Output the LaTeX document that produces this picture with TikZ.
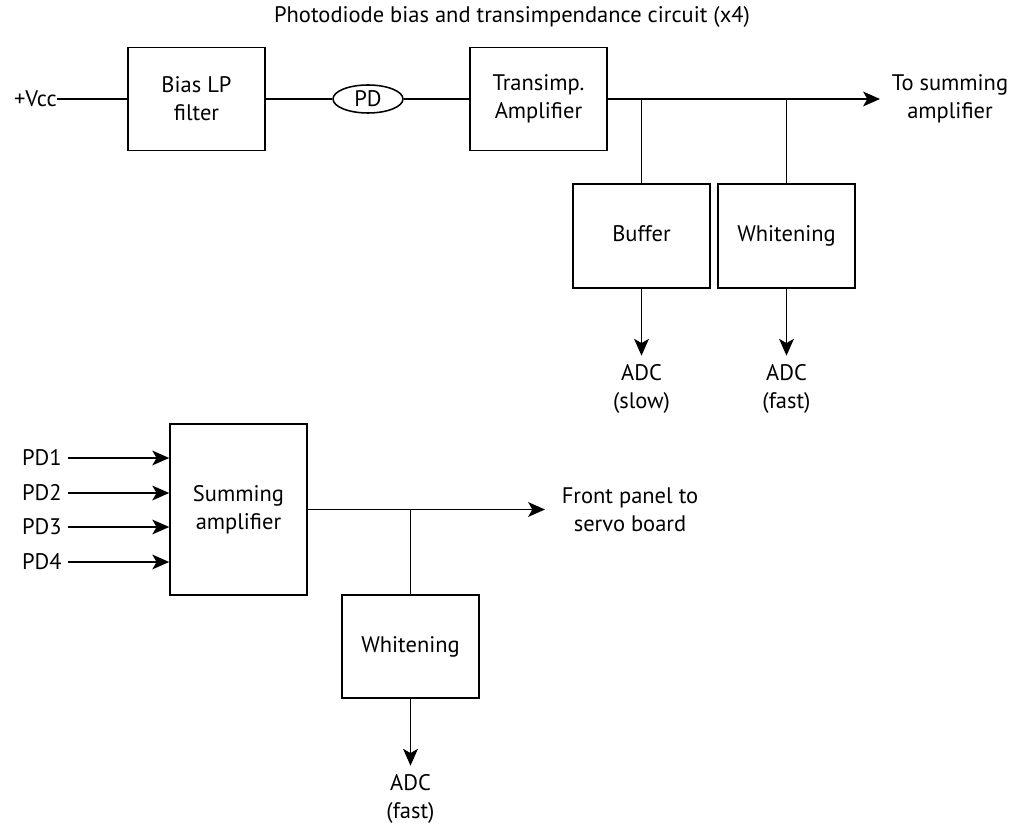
\documentclass[tikz,border=0pt]{standalone}
\usepackage{fontspec}
\setmainfont{PT Sans}
\usetikzlibrary{arrows.meta,shapes.geometric}
\tikzset{
    blocco/.style={draw, line width=1.1pt, minimum width=3.425cm, minimum height=2.575cm, align=center},
    filo/.style={line width=1.1pt},
    freccia/.style={line width=1.1pt, -{Stealth[length=12pt,width=10.5pt,inset=3pt]}},
    etichetta/.style={align=center, inner sep=0pt},
    uscita/.style={align=center, inner sep=6pt}
}
\begin{document}
\begin{tikzpicture}[x=0.025cm, y=-0.025cm, font=\fontsize{16}{20}\selectfont]
    \useasboundingbox (0,0) rectangle (1011,826);

    % Titolo
    \node[etichetta] (titolo) at (512,17) {Photodiode bias and transimpendance circuit (x4)};

    % Catena superiore
    \node[etichetta, anchor=east] (vcc) at (57,99) {+Vcc};
    \node[blocco] (bias) at (196.5,99) {Bias LP\\filter};
    \node[draw, ellipse, line width=1.1pt, minimum width=1.75cm, minimum height=0.7cm, inner sep=0pt] (pd) at (368,99) {PD};
    \node[blocco] (tia) at (538.5,99) {Transimp.\\Amplifier};
    \coordinate (out1) at (880,99);
    \node[etichetta] (tosum) at (950,99) {To summing\\amplifier};

    \draw[filo] (vcc) -- (bias);
    \draw[filo] (bias) -- (pd);
    \draw[filo] (pd) -- (tia);
    \draw[freccia] (tia) -- (out1);

    % Diramazioni
    \node[blocco, minimum height=2.6cm] (buffer) at (641.5,236) {\strut Buffer};
    \node[blocco, minimum height=2.6cm] (whit1) at (786.5,236) {\strut Whitening};
    \draw[filo] (buffer.north |- tia.east) -- (buffer.north);
    \draw[filo] (whit1.north |- tia.east) -- (whit1.north);

    % Uscite ADC
    \node[uscita] (adcslow) at (641.5,389) {ADC\\(slow)};
    \node[uscita] (adcfast1) at (786.5,389) {ADC\\(fast)};
    \draw[freccia] (buffer) -- (adcslow);
    \draw[freccia] (whit1) -- (adcfast1);

    % Amplificatore sommatore
    \node[blocco, minimum height=4.275cm] (somma) at (238.5,509.5) {Summing\\amplifier};
    \foreach \i/\y in {1/458, 2/493, 3/527, 4/562} {
        \node[etichetta, anchor=east] (pd\i) at (62,\y) {PD\i};
        \draw[freccia, shorten <=4pt] (pd\i) -- (somma.west |- pd\i);
    }
    \coordinate (out2) at (545,509.5);
    \node[etichetta] (front) at (630,509.5) {Front panel to\\servo board};
    \draw[freccia] (somma) -- (out2);

    % Whitening inferiore
    \node[blocco] (whit2) at (410.5,646.5) {\strut Whitening};
    \node[uscita] (adcfast2) at (410.5,799) {ADC\\(fast)};
    \draw[filo] (whit2.north |- somma.east) -- (whit2.north);
    \draw[freccia] (whit2) -- (adcfast2);

\end{tikzpicture}
\end{document}
